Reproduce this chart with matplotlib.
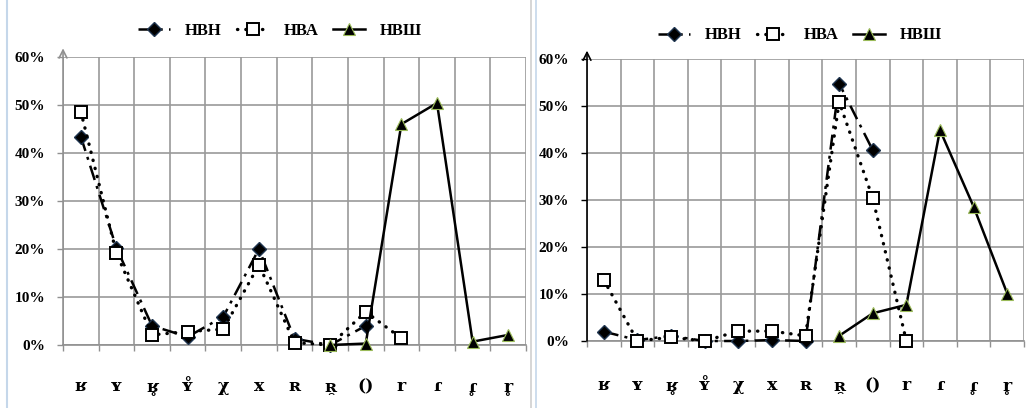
import matplotlib
matplotlib.use("Agg")
import matplotlib.pyplot as plt
import numpy as np
from matplotlib.lines import Line2D

nan = np.nan

categories = ['ʁ', 'ʏ', 'ʁ̥', 'ʏ̊', 'χ', 'x', 'ʀ', 'ʀ̯', '()', 'r', 'ɾ', 'ɾ̥', 'r̥']
series_names = ['НВН', 'НВА', 'НВШ']
y_ticks = [0, 10, 20, 30, 40, 50, 60]

# left chart, percent
nvn_left = [43.4, 20.2, 4.0, 1.7, 5.9, 20.0, 1.3, 0.0, 4.0, nan, nan, nan, nan]
nva_left = [48.6, 19.1, 2.1, 2.8, 3.3, 16.7, 0.5, 0.0, 6.9, 1.4, nan, nan, nan]
nvsh_left = [nan, nan, nan, nan, nan, nan, nan, 0.0, 0.3, 46.0, 50.4, 0.7, 2.1]

# right chart, percent
nvn_right = [2.0, 0.2, 1.1, 0.0, 0.0, 0.2, 0.0, 54.8, 40.6, nan, nan, nan, nan]
nva_right = [13.0, 0.0, 0.8, 0.0, 2.1, 2.1, 1.1, 50.9, 30.4, 0.0, nan, nan, nan]
nvsh_right = [nan, nan, nan, nan, nan, nan, nan, 1.1, 5.9, 7.7, 44.9, 28.6, 10.1]

SERIF = ['Liberation Serif', 'DejaVu Serif']
IPA = ['DejaVu Serif', 'Liberation Serif']

plt.rcParams['font.family'] = SERIF
plt.rcParams['font.weight'] = 'bold'

fig = plt.figure(figsize=(10.3, 4.08), dpi=100)

styles = [
    dict(color='black', linestyle=(0, (6, 2.5, 1.2, 2.5)), linewidth=1.8,
         marker='D', markersize=7.5, markerfacecolor='black', markeredgecolor='#1f3550'),
    dict(color='black', linestyle=(0, (0.1, 2.4)), linewidth=2.4, dash_capstyle='round',
         marker='s', markersize=9, markerfacecolor='white', markeredgecolor='black',
         markeredgewidth=1.4),
    dict(color='black', linestyle='-', linewidth=1.8,
         marker='^', markersize=9, markerfacecolor='black', markeredgecolor='#9bbb59',
         markeredgewidth=0.8),
]


def draw(ax, series, axis_color, label_pad):
    x = np.arange(1, len(categories) + 1)
    handles = []
    for vals, st, name in zip(series, styles, series_names):
        h, = ax.plot(x, vals, label=name, zorder=3, clip_on=False, **st)
        handles.append(h)
    ax.set_xlim(0.5, len(categories) + 0.5)
    ax.set_ylim(0, 60)
    ax.set_yticks(y_ticks)
    ax.set_yticklabels([f'{v}%' for v in y_ticks], fontsize=11, fontweight='bold')
    ax.set_xticks(x)
    ax.set_xticklabels(categories, fontsize=12.5, fontweight='bold', family=IPA)
    ax.set_xticks(np.arange(0.5, len(categories) + 1, 1), minor=True)
    ax.tick_params(axis='x', which='major', length=0, pad=label_pad)
    ax.tick_params(axis='x', which='minor', length=4, color='#909090', width=1)
    ax.tick_params(axis='y', length=4, color=axis_color, width=1, pad=9)
    ax.grid(True, which='minor', axis='x', color='#9a9a9a', linewidth=1.2)
    ax.grid(True, which='major', axis='y', color='#9a9a9a', linewidth=1.2)
    for s in ['top', 'right', 'left']:
        ax.spines[s].set_visible(False)
    ax.spines['bottom'].set_color('#909090')
    ax.spines['bottom'].set_linewidth(1.2)
    ax.annotate('', xy=(0, 1.03), xytext=(0, 0), xycoords='axes fraction',
                arrowprops=dict(arrowstyle='->', color=axis_color, lw=1.2,
                                mutation_scale=14, shrinkA=0, shrinkB=0),
                annotation_clip=False)
    ax.set_axisbelow(True)
    return handles


ax1 = fig.add_axes([0.0612, 0.1544, 0.4495, 0.706])
h1 = draw(ax1, [nvn_left, nva_left, nvsh_left], '#909090', 24)
ax2 = fig.add_axes([0.5699, 0.1642, 0.4243, 0.691])
h2 = draw(ax2, [nvn_right, nva_right, nvsh_right], 'black', 26)

leg_kw = dict(ncol=3, frameon=False, handlelength=1.9, columnspacing=0.9,
              handletextpad=0.9, prop=dict(family=SERIF, weight='bold', size=12))
fig.legend(handles=h1, loc='center', bbox_to_anchor=(0.272, 0.925), **leg_kw)
fig.legend(handles=h2, loc='center', bbox_to_anchor=(0.777, 0.913), **leg_kw)

# window borders from the screenshot
fig.add_artist(Line2D([0.007, 0.007], [0, 1], color='#c5d7ea', linewidth=1.5))
fig.add_artist(Line2D([0.516, 0.516], [0, 1], color='#d0d0d0', linewidth=1.2))
fig.add_artist(Line2D([0.520, 0.520], [0, 1], color='#c5d7ea', linewidth=1.2))

fig.savefig('out.png', dpi=100)
